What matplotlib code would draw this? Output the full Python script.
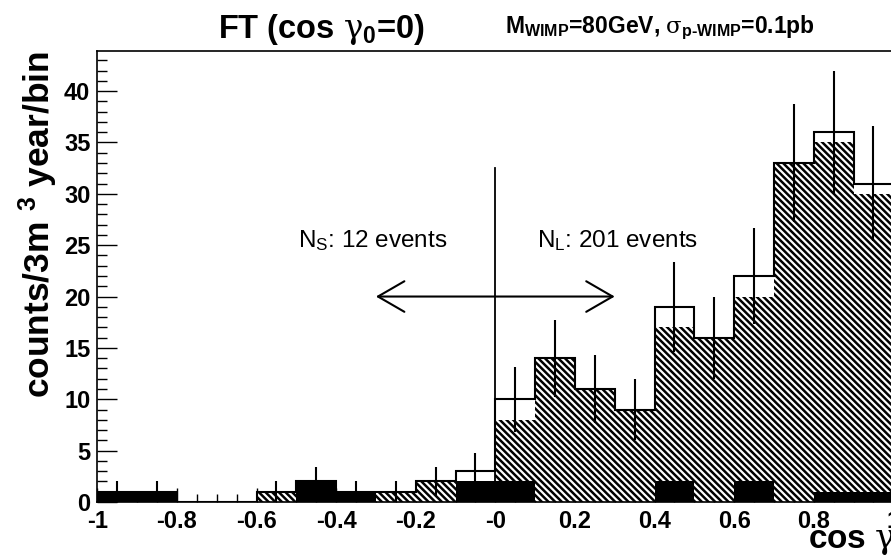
import numpy as np
import matplotlib
matplotlib.use("Agg")
import matplotlib.pyplot as plt
from matplotlib.ticker import MultipleLocator, FixedLocator

plt.rcParams['font.family'] = ['Liberation Sans', 'DejaVu Sans']
plt.rcParams['mathtext.fontset'] = 'custom'
plt.rcParams['mathtext.rm'] = 'Liberation Sans'
plt.rcParams['mathtext.it'] = 'DejaVu Serif'
plt.rcParams['mathtext.bf'] = 'Liberation Sans:bold'
plt.rcParams['hatch.linewidth'] = 1.8

# ---------------- data ----------------
bin_edges = [-1.0, -0.9, -0.8, -0.7, -0.6, -0.5, -0.4, -0.3, -0.2, -0.1, 0.0,
             0.1, 0.2, 0.3, 0.4, 0.5, 0.6, 0.7, 0.8, 0.9, 1.0]
hatched_counts = [0, 0, 0, 0, 1, 0, 0, 1, 2, 1,
                  8, 14, 11, 9, 17, 16, 20, 33, 35, 30]
black_counts = [1, 1, 0, 0, 0, 2, 1, 0, 0, 2,
                2, 0, 0, 0, 2, 0, 2, 0, 1, 1]
total_counts = [1, 1, 0, 0, 1, 2, 1, 1, 2, 3,
                10, 14, 11, 9, 19, 16, 22, 33, 36, 31]
xtick_values = [-1.0, -0.8, -0.6, -0.4, -0.2, 0.0, 0.2, 0.4, 0.6, 0.8, 1.0]
xtick_labels = ["-1", "-0.8", "-0.6", "-0.4", "-0.2", "-0", "0.2", "0.4", "0.6", "0.8", "1"]
ytick_values = [0, 5, 10, 15, 20, 25, 30, 35, 40]
divider_x = 0.0
divider_top = 32.5
arrow_from, arrow_to, arrow_y = -0.3, 0.3, 20.0
ns_label = r"$\mathregular{N_S}$: 12 events"
nl_label = r"$\mathregular{N_L}$: 201 events"

edges = np.array(bin_edges)
widths = np.diff(edges)
centers = edges[:-1] + widths / 2
total = np.array(total_counts, dtype=float)

# ---------------- figure ----------------
W, H = 891, 555
fig = plt.figure(figsize=(W / 100, H / 100), dpi=100)
ax = fig.add_axes([97.3 / W, 1 - 502 / H, (893.3 - 97.3) / W, (502 - 51) / H])

ax.bar(edges[:-1], hatched_counts, width=widths, align='edge', facecolor='white',
       edgecolor='black', linewidth=0, hatch='\\' * 5, zorder=1)
ax.bar(edges[:-1], black_counts, width=widths, align='edge', color='black',
       linewidth=0, zorder=1.1)
ax.stairs(total, edges, color='black', linewidth=1.5, zorder=2)
ax.errorbar(centers, total, yerr=np.sqrt(total), fmt='none', ecolor='black',
            elinewidth=1.5, capsize=0, zorder=2.1)

ax.plot([divider_x, divider_x], [0, divider_top], color='black', lw=1.3, zorder=2.2)
ax.annotate('', xy=(arrow_to, arrow_y), xytext=(arrow_from, arrow_y),
            arrowprops=dict(arrowstyle='<->,head_length=1.9,head_width=1.1',
                            lw=1.5, color='black', shrinkA=0, shrinkB=0,
                            mutation_scale=10), zorder=2.3)
ax.text(-0.495, 24.85, ns_label, fontsize=17.5, ha='left', va='baseline')
ax.text(0.105, 24.85, nl_label, fontsize=17.5, ha='left', va='baseline')

ax.set_xlim(-1.0, 1.0)
ax.set_ylim(0, 43.9)
ax.set_axisbelow(True)

ax.xaxis.set_major_locator(FixedLocator(xtick_values))
ax.set_xticklabels(xtick_labels)
ax.xaxis.set_minor_locator(MultipleLocator(0.05))
ax.yaxis.set_major_locator(FixedLocator(ytick_values))
ax.set_yticklabels([str(v) for v in ytick_values])
ax.yaxis.set_minor_locator(MultipleLocator(1))

ax.tick_params(axis='both', which='both', direction='in', width=1.0,
               top=False, right=False)
ax.tick_params(axis='y', which='major', length=14.4, pad=5)
ax.tick_params(axis='y', which='minor', length=7.2)
ax.tick_params(axis='x', which='major', length=10, pad=6)
ax.tick_params(axis='x', which='minor', length=5.5)
for lab in ax.get_xticklabels() + ax.get_yticklabels():
    lab.set_fontsize(17)
    lab.set_fontweight('bold')
for sp in ax.spines.values():
    sp.set_linewidth(1.2)

fig.text(321 / W, 1 - 38 / H, r"FT (cos $\gamma_{\mathregular{0}}$=0)", fontsize=23.5,
         fontweight='bold', ha='center', va='baseline')
fig.text(505 / W, 1 - 33.3 / H,
         r"$\mathregular{M_{WIMP}}$=80GeV, $\sigma_{\mathregular{p‐WIMP}}$=0.1pb",
         fontsize=16.5, fontweight='bold', ha='left', va='baseline')
fig.text(38 / W, 1 - 224 / H, r"counts/3m $\mathregular{^3}$ year/bin", fontsize=25.5,
         fontweight='bold', rotation=90, ha='center', va='center')
fig.text(808 / W, 1 - 548.3 / H, r"cos $\gamma$", fontsize=24, fontweight='bold',
         ha='left', va='baseline')

fig.savefig("out.png", dpi=100)
